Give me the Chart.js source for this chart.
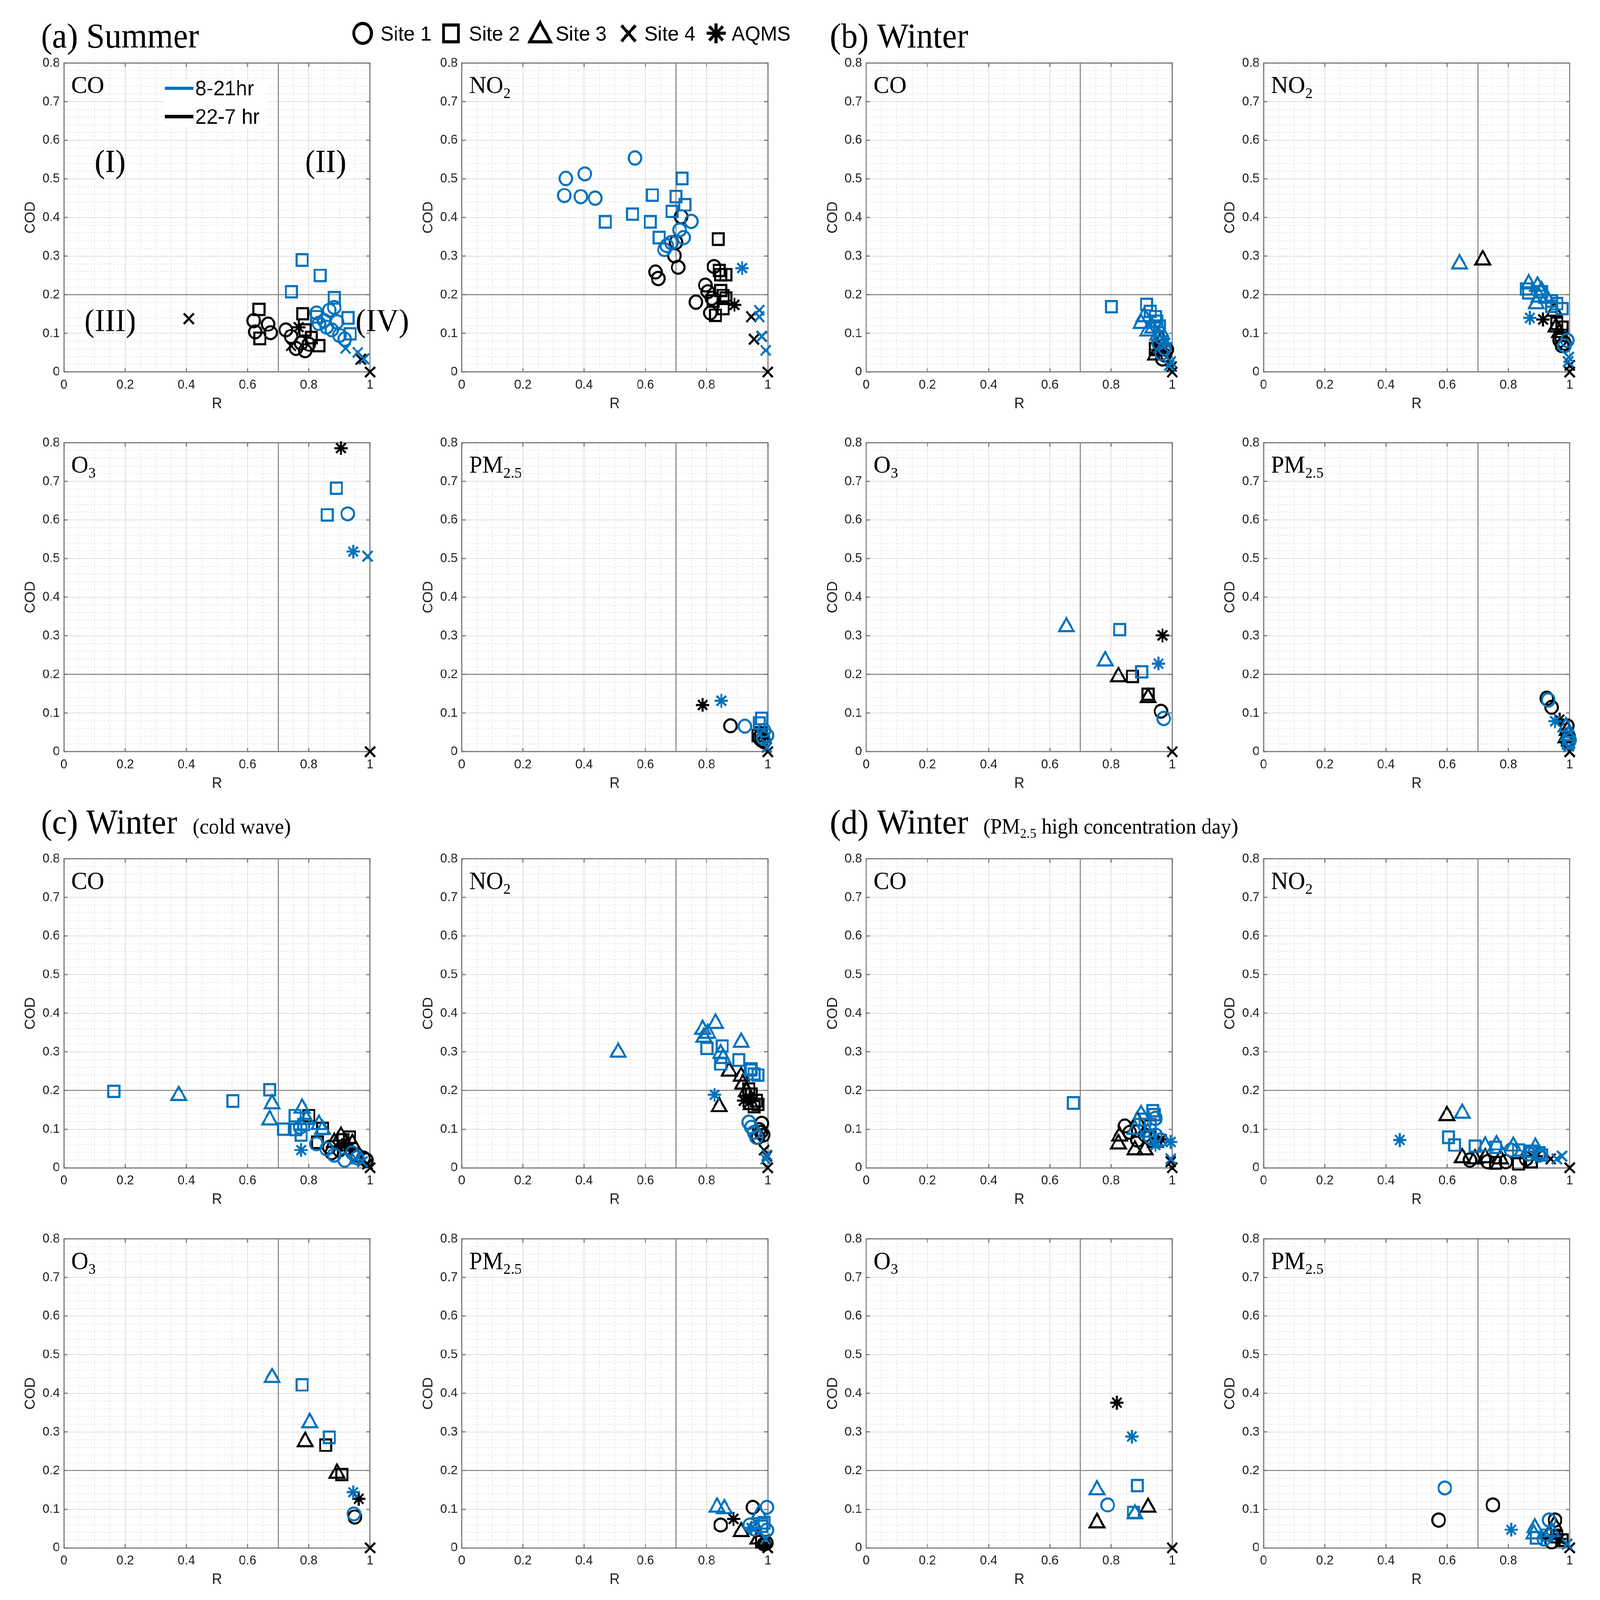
<!DOCTYPE html>
<html>
<head>
<meta charset="utf-8">
<script src="https://cdn.jsdelivr.net/npm/chart.js@4.4.1/dist/chart.umd.min.js"></script>
<style>
  html, body { margin: 0; padding: 0; background: #fff; overflow: hidden; }
  #page { position: absolute; left: 0; top: 0; width: 4328px; height: 4176px; transform-origin: 0 0; }
  #page canvas { position: absolute; }
</style>
</head>
<body>
<div id="page">
<canvas id="bg" width="4328" height="4176" style="left:0;top:0"></canvas>
</div>
<script>
// markers: site 1..5, hour 0 = 8-21hr (blue), 1 = 22-7 hr (black)
const SITE_NAMES = ["Site 1", "Site 2", "Site 3", "Site 4", "AQMS"];
const SITE_MARKS = ["circle", "rect", "triangle", "crossRot", "star"];
const SITE_RADIUS = [17, 21, 23, 19, 18];
const HOUR_NAMES = ["8-21hr", "22-7 hr"];
const HOUR_COLORS = ["#0072BD", "#000000"];
const xTicks = [0, 0.2, 0.4, 0.6, 0.8, 1];
const yTicks = [0, 0.1, 0.2, 0.3, 0.4, 0.5, 0.6, 0.7, 0.8];

// [site, hour, R, COD]
const summerCO = [
  [1,0,.825,.153],[1,0,.85,.133],[1,0,.867,.160],[1,0,.883,.167],[1,0,.892,.130],[1,0,.875,.109],
  [1,0,.90,.095],[1,0,.858,.116],[1,0,.833,.126],[1,0,.917,.085],
  [2,0,.778,.29],[2,0,.837,.25],[2,0,.743,.208],[2,0,.883,.192],[2,0,.928,.14],[2,0,.935,.099],[2,0,.825,.143],
  [4,0,.92,.061],[4,0,.96,.051],[4,0,.98,.034],
  [1,1,.62,.133],[1,1,.625,.104],[1,1,.667,.124],[1,1,.675,.102],[1,1,.725,.109],[1,1,.742,.092],
  [1,1,.775,.075],[1,1,.788,.055],[1,1,.80,.072],[1,1,.758,.061],
  [2,1,.637,.162],[2,1,.64,.087],[2,1,.78,.151],[2,1,.788,.109],[2,1,.833,.068],[2,1,.808,.089],
  [5,1,.767,.116],
  [4,1,.408,.138],[4,1,.742,.068],[4,1,.97,.033],[4,1,1,0]
];
const summerNO2 = [
  [1,0,.566,.554],[1,0,.34,.501],[1,0,.402,.513],[1,0,.335,.457],[1,0,.389,.454],[1,0,.436,.45],
  [1,0,.75,.39],[1,0,.712,.368],[1,0,.725,.348],[1,0,.67,.327],[1,0,.662,.317],[1,0,.685,.335],
  [2,0,.72,.501],[2,0,.623,.458],[2,0,.70,.454],[2,0,.729,.433],[2,0,.558,.409],[2,0,.469,.389],
  [2,0,.616,.389],[2,0,.687,.416],[2,0,.645,.348],
  [5,0,.916,.269],
  [4,0,.972,.16],[4,0,.972,.143],[4,0,.98,.092],[4,0,.993,.056],
  [1,1,.717,.402],[1,1,.70,.336],[1,1,.695,.301],[1,1,.707,.271],[1,1,.633,.259],[1,1,.642,.242],
  [1,1,.796,.225],[1,1,.804,.208],[1,1,.765,.181],[1,1,.817,.191],[1,1,.812,.153],[1,1,.824,.273],
  [2,1,.838,.344],[2,1,.841,.263],[2,1,.846,.252],[2,1,.863,.252],[2,1,.846,.211],[2,1,.854,.198],
  [2,1,.821,.184],[2,1,.829,.147],[2,1,.854,.164],[2,1,.863,.191],
  [5,1,.891,.174],
  [4,1,.946,.143],[4,1,.955,.085],[4,1,.98,.092],[4,1,1,0]
];
const summerO3 = [
  [2,0,.89,.682],[2,0,.86,.613],[1,0,.927,.616],[5,0,.945,.518],[4,0,.992,.506],
  [5,1,.905,.786],[4,1,1,0]
];
const summerPM = [
  [5,0,.848,.132],[1,0,.925,.066],[1,0,.988,.055],[1,0,.997,.042],[1,0,.985,.036],
  [2,0,.98,.086],[2,0,.972,.074],[4,0,.997,.011],
  [5,1,.787,.121],[1,1,.878,.067],[1,1,.972,.036],[1,1,.98,.03],[1,1,.988,.026],
  [2,1,.977,.049],[2,1,.968,.042],[4,1,1,0]
];
const winterCO = [
  [2,0,.801,.169],[2,0,.916,.175],[2,0,.928,.157],[2,0,.95,.131],[2,0,.958,.119],[2,0,.945,.143],
  [3,0,.898,.126],[3,0,.908,.143],[3,0,.92,.106],[3,0,.936,.113],[3,0,.962,.104],[3,0,.953,.095],
  [1,0,.955,.075],[1,0,.965,.089],[1,0,.975,.061],[1,0,.965,.048],
  [4,0,.995,.027],[4,0,.99,.017],[5,0,.978,.075],
  [3,1,.953,.055],[3,1,.965,.083],[3,1,.945,.044],
  [1,1,.968,.034],[1,1,.975,.044],[1,1,.982,.058],
  [2,1,.962,.068],[2,1,.945,.061],
  [5,1,.97,.068],[5,1,.953,.058],
  [4,1,1,0],[4,1,.998,.014]
];
const winterNO2 = [
  [3,0,.64,.28],[3,0,.866,.228],[3,0,.895,.222],[3,0,.908,.211],[3,0,.891,.177],[3,0,.925,.191],[3,0,.9,.194],
  [2,0,.858,.215],[2,0,.866,.205],[2,0,.908,.208],[2,0,.941,.184],[2,0,.958,.177],[2,0,.975,.164],[2,0,.941,.17],
  [5,0,.87,.14],[1,0,.983,.068],[1,0,.992,.082],[4,0,.997,.038],[4,0,.995,.027],
  [3,1,.716,.29],[3,1,.95,.157],[3,1,.955,.116],[3,1,.967,.102],
  [5,1,.913,.136],
  [2,1,.958,.126],[2,1,.975,.116],[2,1,.972,.095],
  [1,1,.975,.068],[1,1,.983,.075],[1,1,.967,.082],
  [4,1,1,0],[4,1,1,.017]
];
const winterO3 = [
  [3,0,.654,.323],[3,0,.781,.235],[2,0,.828,.316],[2,0,.9,.207],[5,0,.955,.228],[1,0,.972,.086],
  [5,1,.968,.301],[2,1,.87,.195],[2,1,.921,.149],[3,1,.824,.194],[3,1,.921,.14],[1,1,.963,.105],[4,1,1,0]
];
const winterPM = [
  [1,0,.93,.134],[1,0,1,.03],[5,0,.952,.079],[3,0,.988,.064],[3,0,.995,.042],[4,0,.997,.014],[2,0,.995,.023],
  [1,1,.925,.138],[1,1,.941,.115],[1,1,.992,.067],[5,1,.967,.083],[3,1,.992,.055],[3,1,.988,.036],
  [2,1,.992,.03],[4,1,1,0]
];
const coldCO = [
  [2,0,.163,.198],[2,0,.552,.173],[2,0,.672,.202],[2,0,.717,.1],[2,0,.755,.135],[2,0,.758,.099],[2,0,.775,.085],[2,0,.783,.112],
  [3,0,.375,.187],[3,0,.68,.166],[3,0,.672,.124],[3,0,.778,.154],[3,0,.833,.112],[3,0,.845,.099],[3,0,.792,.125],
  [1,0,.772,.105],[1,0,.825,.062],[1,0,.858,.049],[1,0,.883,.033],[1,0,.917,.02],[1,0,.958,.026],[1,0,.942,.039],
  [5,0,.775,.046],[4,0,.955,.023],[4,0,.975,.016],
  [2,1,.8,.135],[2,1,.828,.066],[2,1,.845,.102],[2,1,.933,.079],[2,1,.912,.072],
  [3,1,.905,.082],[3,1,.883,.066],[3,1,.942,.062],[3,1,.925,.056],
  [1,1,.875,.039],[1,1,.9,.046],[1,1,.958,.033],[1,1,.978,.025],[1,1,.988,.02],[1,1,.867,.053],
  [5,1,.933,.053],[5,1,.908,.059],
  [4,1,1,0],[4,1,.992,.01]
];
const coldNO2 = [
  [3,0,.511,.299],[3,0,.787,.358],[3,0,.829,.374],[3,0,.804,.348],[3,0,.791,.338],[3,0,.913,.325],[3,0,.846,.296],[3,0,.854,.283],
  [2,0,.801,.309],[2,0,.851,.315],[2,0,.846,.269],[2,0,.905,.279],[2,0,.943,.253],[2,0,.955,.243],[2,0,.968,.24],[2,0,.946,.256],
  [5,0,.826,.189],
  [1,0,.938,.118],[1,0,.946,.105],[1,0,.955,.092],[1,0,.963,.079],
  [4,0,.997,.033],[4,0,.993,.023],
  [3,1,.841,.158],[3,1,.874,.25],[3,1,.913,.237],[3,1,.918,.217],[3,1,.93,.197],[3,1,.946,.164],
  [2,1,.938,.204],[2,1,.946,.191],[2,1,.963,.174],[2,1,.955,.158],[2,1,.968,.164],
  [5,1,.921,.174],[5,1,.941,.181],
  [1,1,.98,.115],[1,1,.972,.099],[1,1,.985,.085],[1,1,.968,.079],[1,1,.977,.092],
  [4,1,.988,.046],[4,1,.997,.03],[4,1,1,0]
];
const coldO3 = [
  [3,0,.68,.441],[2,0,.778,.422],[3,0,.803,.324],[2,0,.867,.286],[5,0,.945,.144],[1,0,.947,.088],
  [3,1,.788,.275],[2,1,.855,.266],[3,1,.892,.193],[2,1,.908,.19],[5,1,.963,.127],[1,1,.95,.08],[4,1,1,0]
];
const coldPM = [
  [3,0,.834,.105],[3,0,.858,.101],[1,0,.997,.105],[3,0,.972,.088],[2,0,.988,.065],[2,0,.98,.056],
  [1,0,.941,.059],[1,0,.955,.049],[1,0,.997,.046],[5,0,.946,.052],[4,0,.992,.023],
  [1,1,.846,.059],[5,1,.888,.075],[3,1,.913,.042],[1,1,.951,.105],[1,1,.988,.01],[1,1,.995,.013],
  [3,1,.968,.023],[2,1,.98,.016],[5,1,.988,.007],[4,1,1,0]
];
const highCO = [
  [2,0,.677,.168],[2,0,.936,.148],[2,0,.941,.138],[2,0,.928,.112],[2,0,.911,.125],
  [3,0,.898,.138],[3,0,.878,.099],[3,0,.92,.092],
  [1,0,.945,.128],[1,0,.945,.085],[1,0,.962,.072],[1,0,.928,.079],
  [5,0,.995,.067],[5,0,.945,.059],[4,0,.995,.023],
  [1,1,.845,.108],[1,1,.861,.092],[1,1,.886,.072],[1,1,.911,.085],
  [3,1,.828,.082],[3,1,.824,.062],[3,1,.878,.046],[3,1,.911,.046],[3,1,.886,.121],[3,1,.945,.066],
  [2,1,.928,.108],[2,1,.886,.095],
  [5,1,.965,.074],[4,1,1,0],[4,1,.995,.016]
];
const highNO2 = [
  [3,0,.649,.141],[5,0,.445,.072],
  [2,0,.604,.079],[2,0,.624,.059],[2,0,.691,.056],[2,0,.758,.053],[2,0,.833,.046],[2,0,.875,.043],[2,0,.9,.039],[2,0,.908,.033],
  [3,0,.724,.056],[3,0,.761,.059],[3,0,.816,.056],[3,0,.888,.053],
  [1,0,.808,.046],[1,0,.866,.036],[1,0,.9,.033],
  [4,0,.958,.023],[4,0,.975,.03],
  [3,1,.599,.135],[3,1,.649,.026],[3,1,.691,.023],[3,1,.724,.026],[3,1,.774,.023],
  [1,1,.674,.02],[1,1,.732,.016],[1,1,.791,.016],[1,1,.858,.023],
  [2,1,.758,.013],[2,1,.833,.01],[2,1,.875,.016],
  [5,1,.891,.03],[4,1,.938,.023],[4,1,1,0]
];
const highO3 = [
  [5,0,.868,.288],[3,0,.754,.15],[2,0,.886,.161],[1,0,.789,.111],[2,0,.873,.092],[3,0,.878,.088],
  [5,1,.819,.376],[3,1,.921,.105],[3,1,.754,.065],[4,1,1,0]
];
const highPM = [
  [1,0,.592,.155],[5,0,.809,.047],[3,0,.886,.052],[3,0,.883,.036],[1,0,.933,.072],[3,0,.941,.042],
  [2,0,.891,.026],[2,0,.925,.033],[1,0,.916,.023],[4,0,.992,.01],
  [1,1,.749,.111],[1,1,.572,.072],[1,1,.952,.072],[3,1,.95,.059],[2,1,.958,.029],[2,1,.975,.02],
  [3,1,.933,.036],[1,1,.941,.016],[5,1,.967,.023],[4,1,1,0]
];

// plot area corners on the page
const colLeft = [173, 1249, 2343, 3418];
const rowTop = [163, 1154, 2240, 3232];
const plotW = 828, plotH = 808;
const padL = 120, padT = 30, padR = 110, padB = 130;

const panels = [
  { rows: summerCO,  label: ["CO", ""],    col: 0, row: 0, quad: true },
  { rows: summerNO2, label: ["NO", "2"],   col: 1, row: 0 },
  { rows: summerO3,  label: ["O", "3"],    col: 0, row: 1 },
  { rows: summerPM,  label: ["PM", "2.5"], col: 1, row: 1 },
  { rows: winterCO,  label: ["CO", ""],    col: 2, row: 0 },
  { rows: winterNO2, label: ["NO", "2"],   col: 3, row: 0 },
  { rows: winterO3,  label: ["O", "3"],    col: 2, row: 1 },
  { rows: winterPM,  label: ["PM", "2.5"], col: 3, row: 1 },
  { rows: coldCO,    label: ["CO", ""],    col: 0, row: 2 },
  { rows: coldNO2,   label: ["NO", "2"],   col: 1, row: 2 },
  { rows: coldO3,    label: ["O", "3"],    col: 0, row: 3 },
  { rows: coldPM,    label: ["PM", "2.5"], col: 1, row: 3 },
  { rows: highCO,    label: ["CO", ""],    col: 2, row: 2 },
  { rows: highNO2,   label: ["NO", "2"],   col: 3, row: 2 },
  { rows: highO3,    label: ["O", "3"],    col: 2, row: 3 },
  { rows: highPM,    label: ["PM", "2.5"], col: 3, row: 3 }
];

// fit the 4328x4176 layout into whatever the window is
const page = document.getElementById("page");
const sx = window.innerWidth / 4328, sy = window.innerHeight / 4176;
page.style.transform = "scale(" + sx + "," + sy + ")";

function makeDatasets(rows) {
  const sets = [];
  [0, 1].forEach(h => {
    SITE_NAMES.forEach((name, i) => {
      const pts = rows.filter(r => r[0] === i + 1 && r[1] === h).map(r => ({ x: r[2], y: r[3] }));
      if (!pts.length) return;
      sets.push({
        label: name + " " + HOUR_NAMES[h],
        data: pts,
        pointStyle: SITE_MARKS[i],
        pointRadius: SITE_RADIUS[i],
        borderColor: HOUR_COLORS[h],
        backgroundColor: "rgba(0,0,0,0)",
        borderWidth: 5.5,
        showLine: false,
        clip: false
      });
    });
  });
  return sets;
}

// text with optional subscript part
function subText(ctx, x, y, main, sub, size, family, after) {
  ctx.font = size + "px " + family;
  ctx.fillText(main, x, y);
  let w = ctx.measureText(main).width;
  if (sub) {
    ctx.font = Math.round(size * 0.62) + "px " + family;
    ctx.fillText(sub, x + w, y + size * 0.2);
    w += ctx.measureText(sub).width;
  }
  if (after) {
    ctx.font = size + "px " + family;
    ctx.fillText(after, x + w, y);
  }
}

const panelDeco = {
  id: "panelDeco",
  beforeDatasetsDraw(chart, args, opts) {
    const { ctx, chartArea: a, scales: { x, y } } = chart;
    const ln = (x1, y1, x2, y2) => { ctx.beginPath(); ctx.moveTo(x1, y1); ctx.lineTo(x2, y2); ctx.stroke(); };
    ctx.save();
    // minor grid
    ctx.strokeStyle = "#e3e3e3";
    ctx.lineWidth = 2;
    ctx.setLineDash([4, 5]);
    for (let k = 1; k < 20; k++) {
      if (k % 4 === 0) continue;
      const px = x.getPixelForValue(k * 0.05);
      ln(px, a.top, px, a.bottom);
    }
    for (let k = 1; k < 40; k++) {
      if (k % 5 === 0) continue;
      const py = y.getPixelForValue(k * 0.02);
      ln(a.left, py, a.right, py);
    }
    ctx.setLineDash([]);
    // threshold lines R = 0.7, COD = 0.2
    ctx.strokeStyle = "#8e8e8e";
    ctx.lineWidth = 3;
    const rx = x.getPixelForValue(0.7), cy = y.getPixelForValue(0.2);
    ln(rx, a.top, rx, a.bottom);
    ln(a.left, cy, a.right, cy);
    // box and inward ticks
    ctx.strokeStyle = "#7a7a7a";
    ctx.lineWidth = 3;
    ctx.strokeRect(a.left, a.top, a.width, a.height);
    xTicks.forEach(v => {
      const px = x.getPixelForValue(v);
      ln(px, a.bottom, px, a.bottom - 10);
      ln(px, a.top, px, a.top + 10);
    });
    yTicks.forEach(v => {
      const py = y.getPixelForValue(v);
      ln(a.left, py, a.left + 10, py);
      ln(a.right, py, a.right - 10, py);
    });
    ctx.restore();
  },
  afterDatasetsDraw(chart, args, opts) {
    const { ctx, chartArea: a, scales: { x, y } } = chart;
    ctx.save();
    ctx.fillStyle = "#000";
    ctx.textBaseline = "alphabetic";
    subText(ctx, a.left + 20, a.top + 79, opts.label[0], opts.label[1], 64, '"Liberation Serif"');
    if (opts.quad) {
      ctx.font = '84px "Liberation Serif"';
      ctx.textAlign = "center";
      ctx.textBaseline = "middle";
      [["(I)", 0.151, 0.539], ["(II)", 0.855, 0.539], ["(III)", 0.151, 0.127], ["(IV)", 1.04, 0.127]].forEach(q => {
        ctx.fillText(q[0], x.getPixelForValue(q[1]), y.getPixelForValue(q[2]));
      });
      // hour legend
      ctx.textAlign = "left";
      ctx.fillStyle = "#fff";
      ctx.fillRect(a.left + 270, a.top + 46, 280, 122);
      ctx.font = '55px "Liberation Sans"';
      HOUR_NAMES.forEach((nm, i) => {
        const yy = a.top + 66 + i * 74;
        ctx.strokeStyle = HOUR_COLORS[i];
        ctx.lineWidth = 9;
        ctx.beginPath(); ctx.moveTo(a.left + 273, yy); ctx.lineTo(a.left + 350, yy); ctx.stroke();
        ctx.fillStyle = "#000";
        ctx.fillText(nm, a.left + 355, yy + 3);
      });
    }
    ctx.restore();
  }
};

const tickFont = { family: '"Liberation Sans"', size: 34 };
const titleFont = { family: '"Liberation Sans"', size: 38 };

panels.forEach(p => {
  const cv = document.createElement("canvas");
  const W = padL + plotW + padR, H = padT + plotH + padB;
  cv.width = W; cv.height = H;
  cv.style.left = (colLeft[p.col] - padL) + "px";
  cv.style.top = (rowTop[p.row] - padT) + "px";
  cv.style.width = W + "px"; cv.style.height = H + "px";
  page.appendChild(cv);
  new Chart(cv, {
    type: "scatter",
    data: { datasets: makeDatasets(p.rows) },
    options: {
      responsive: false,
      animation: false,
      devicePixelRatio: 1,
      events: [],
      layout: { padding: { left: 0, top: padT, right: padR, bottom: 0 } },
      plugins: {
        legend: { display: false },
        tooltip: { enabled: false },
        panelDeco: { label: p.label, quad: !!p.quad }
      },
      scales: {
        x: {
          type: "linear", min: 0, max: 1,
          afterFit: s => { s.height = padB; },
          afterBuildTicks: s => { s.ticks = xTicks.map(v => ({ value: v })); },
          ticks: { font: tickFont, color: "#222", padding: 13, maxRotation: 0,
                   callback: v => String(+v.toFixed(1)) },
          grid: { color: "#dfdfdf", lineWidth: 2, drawTicks: false },
          border: { display: false },
          title: { display: true, text: "R", font: titleFont, color: "#222", padding: { top: 4, bottom: 24 } }
        },
        y: {
          type: "linear", min: 0, max: 0.8,
          afterFit: s => { s.width = padL; },
          afterBuildTicks: s => { s.ticks = yTicks.map(v => ({ value: v })); },
          ticks: { font: tickFont, color: "#222", padding: 11,
                   callback: v => String(+v.toFixed(1)) },
          grid: { color: "#dfdfdf", lineWidth: 2, drawTicks: false },
          border: { display: false },
          title: { display: true, text: "COD", font: titleFont, color: "#222", padding: { top: 8, bottom: 4 } }
        }
      }
    },
    plugins: [panelDeco]
  });
});

// group titles and the site legend
const bg = document.getElementById("bg").getContext("2d");
bg.fillStyle = "#000";
bg.textBaseline = "alphabetic";
const serif = '"Liberation Serif"';
subText(bg, 111, 124, "(a) Summer", "", 90, serif);
subText(bg, 2245, 124, "(b) Winter", "", 90, serif);
subText(bg, 111, 2176, "(c) Winter", "", 90, serif);
subText(bg, 521, 2176, "(cold wave)", "", 56, serif);
subText(bg, 2245, 2176, "(d) Winter", "", 90, serif);
subText(bg, 2660, 2176, "(PM", "2.5", 56, serif, " high concentration day)");

const legendX = [981, 1220, 1461, 1700, 1937];
const legendTextX = [1029, 1268, 1503, 1743, 1979];
const ly = 87;
bg.strokeStyle = "#000";
bg.lineWidth = 8;
legendX.forEach((cx, i) => {
  bg.beginPath();
  if (i === 0) {
    bg.ellipse(cx, ly, 24, 26, 0, 0, Math.PI * 2);
  } else if (i === 1) {
    bg.rect(cx - 20, ly - 22, 40, 44);
  } else if (i === 2) {
    bg.moveTo(cx, ly - 28); bg.lineTo(cx + 28, ly + 22); bg.lineTo(cx - 28, ly + 22); bg.closePath();
  } else if (i === 3) {
    bg.moveTo(cx - 19, ly - 21); bg.lineTo(cx + 19, ly + 21);
    bg.moveTo(cx + 19, ly - 21); bg.lineTo(cx - 19, ly + 21);
  } else {
    for (let k = 0; k < 4; k++) {
      const ang = k * Math.PI / 4;
      bg.moveTo(cx - 26 * Math.sin(ang), ly - 26 * Math.cos(ang));
      bg.lineTo(cx + 26 * Math.sin(ang), ly + 26 * Math.cos(ang));
    }
  }
  bg.stroke();
  bg.font = '54px "Liberation Sans"';
  bg.fillText(SITE_NAMES[i], legendTextX[i], ly + 19);
});
</script>
</body>
</html>
